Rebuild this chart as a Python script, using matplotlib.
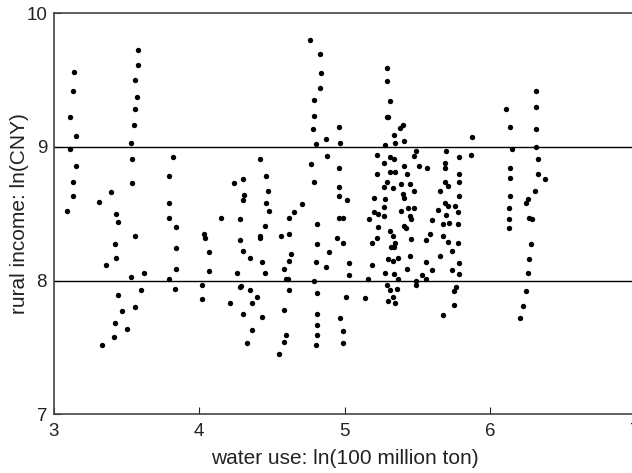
import matplotlib.pyplot as plt

plt.rcParams['font.family'] = ['Liberation Sans', 'DejaVu Sans']

# water use ln(100 million ton) and rural income ln(CNY)
water = [
    3.14, 3.13, 3.11, 3.15, 3.11, 3.15, 3.13, 3.13, 3.09,
    3.58, 3.58, 3.56, 3.57, 3.56, 3.55, 3.53, 3.54, 3.54, 3.56, 3.53, 3.56, 3.62, 3.60,
    3.39, 3.31, 3.43, 3.44, 3.42, 3.43, 3.36, 3.44, 3.47, 3.42, 3.50, 3.41, 3.33,
    3.82, 3.79, 3.79, 3.79, 3.84, 3.84, 3.84, 3.79, 3.83,
    4.03, 4.04, 4.07, 4.07, 4.02, 4.02, 4.15, 4.21,
    4.30, 4.24, 4.31, 4.30, 4.28, 4.28, 4.30, 4.35, 4.26, 4.28, 4.29, 4.35, 4.36, 4.30,
    4.36, 4.33, 4.40,
    4.42, 4.46, 4.47, 4.46, 4.48, 4.45, 4.42, 4.42, 4.43, 4.45, 4.43,
    4.56, 4.62, 4.62, 4.65, 4.71, 4.63, 4.62, 4.58, 4.60, 4.61, 4.62, 4.58, 4.60, 4.58, 4.55,
    4.76, 4.83, 4.84, 4.83, 4.79, 4.79, 4.78, 4.87, 4.80, 4.88, 4.77, 4.79, 4.81, 4.81,
    4.80, 4.89, 4.87, 4.79, 4.81, 4.81, 4.81, 4.81, 4.80,
    4.96, 4.97, 4.96, 4.96, 4.96, 5.02, 4.96, 4.99, 4.95, 4.99, 5.03, 5.03, 5.01, 4.97,
    4.99, 4.99,
    5.29, 5.29, 5.31, 5.29, 5.30, 5.38, 5.40, 5.34, 5.35, 5.41, 5.28, 5.49, 5.48, 5.22,
    5.31, 5.34, 5.27, 5.41, 5.51, 5.57, 5.22, 5.31, 5.35, 5.43, 5.29, 5.27, 5.33, 5.39,
    5.45, 5.48, 5.40, 5.41, 5.20, 5.28, 5.27, 5.20, 5.23, 5.27, 5.17, 5.39, 5.44, 5.48,
    5.45, 5.46,
    5.70, 5.69, 5.69, 5.79, 5.87, 5.88, 5.79, 5.79, 5.69, 5.71, 5.66, 5.79, 5.69, 5.71,
    5.76, 5.64, 5.70, 5.78, 5.60,
    5.23, 5.41, 5.42, 5.22, 5.19, 5.31, 5.33, 5.35, 5.32, 5.34, 5.46, 5.68, 5.72, 5.78,
    5.59, 5.68, 5.56, 5.71, 5.78, 5.74, 5.66, 5.19, 5.30, 5.33, 5.37, 5.45, 5.43, 5.28,
    5.34, 5.56, 5.60, 5.74, 5.79, 5.79, 5.16, 5.37, 5.49, 5.49, 5.53, 5.56, 5.29, 5.31,
    5.36, 5.14, 5.33, 5.30, 5.35, 5.75, 5.77, 5.75, 5.68,
    6.11, 6.14, 6.15, 6.14, 6.14, 6.14, 6.13, 6.13, 6.13,
    6.32, 6.32, 6.32, 6.32, 6.33, 6.33, 6.38, 6.31, 6.26, 6.25, 6.27, 6.29, 6.28, 6.27,
    6.26, 6.25, 6.23, 6.21,
]
income = [
    9.56, 9.42, 9.22, 9.08, 8.98, 8.86, 8.74, 8.63, 8.52,
    9.72, 9.61, 9.50, 9.37, 9.28, 9.16, 9.03, 8.91, 8.73, 8.33, 8.03, 7.80, 8.06, 7.93,
    8.66, 8.59, 8.50, 8.44, 8.27, 8.17, 8.12, 7.89, 7.77, 7.68, 7.64, 7.58, 7.52,
    8.92, 8.78, 8.58, 8.47, 8.40, 8.24, 8.09, 8.01, 7.94,
    8.35, 8.32, 8.21, 8.07, 7.97, 7.86, 8.47, 7.83,
    8.76, 8.73, 8.64, 8.60, 8.46, 8.30, 8.22, 8.17, 8.06, 7.95, 7.96, 7.93, 7.83, 7.75,
    7.63, 7.53, 7.88,
    8.91, 8.78, 8.67, 8.58, 8.52, 8.41, 8.33, 8.32, 8.14, 8.06, 7.73,
    8.33, 8.35, 8.47, 8.51, 8.57, 8.20, 8.15, 8.09, 8.01, 8.01, 7.93, 7.78, 7.59, 7.54, 7.45,
    9.80, 9.69, 9.55, 9.44, 9.35, 9.23, 9.13, 9.06, 9.02, 8.93, 8.87, 8.74, 8.42, 8.27,
    8.14, 8.21, 8.10, 8.00, 7.91, 7.75, 7.67, 7.59, 7.52,
    9.15, 9.03, 8.84, 8.70, 8.63, 8.60, 8.47, 8.47, 8.32, 8.28, 8.13, 8.04, 7.88, 7.72,
    7.62, 7.53,
    9.59, 9.49, 9.34, 9.22, 9.22, 9.14, 9.16, 9.09, 9.03, 9.04, 9.01, 8.97, 8.93, 8.94,
    8.92, 8.91, 8.88, 8.86, 8.86, 8.84, 8.80, 8.81, 8.81, 8.80, 8.74, 8.70, 8.69, 8.72,
    8.72, 8.67, 8.65, 8.62, 8.62, 8.61, 8.55, 8.51, 8.50, 8.48, 8.46, 8.52, 8.54, 8.54,
    8.48, 8.46,
    8.97, 8.88, 8.84, 8.92, 8.94, 9.07, 8.80, 8.74, 8.74, 8.71, 8.67, 8.63, 8.58, 8.56,
    8.56, 8.53, 8.49, 8.51, 8.45,
    8.40, 8.41, 8.39, 8.32, 8.28, 8.37, 8.33, 8.28, 8.25, 8.25, 8.31, 8.42, 8.43, 8.42,
    8.35, 8.33, 8.30, 8.29, 8.28, 8.22, 8.18, 8.12, 8.16, 8.15, 8.17, 8.18, 8.09, 8.06,
    8.05, 8.14, 8.08, 8.08, 8.13, 8.05, 8.01, 8.01, 8.00, 7.97, 8.04, 8.01, 7.97, 7.93,
    7.94, 7.87, 7.88, 7.85, 7.83, 7.92, 7.95, 7.82, 7.74,
    9.28, 9.15, 8.98, 8.84, 8.77, 8.63, 8.54, 8.46, 8.39,
    9.42, 9.30, 9.13, 9.00, 8.91, 8.80, 8.76, 8.67, 8.61, 8.58, 8.47, 8.46, 8.27, 8.16,
    8.06, 7.92, 7.81, 7.72,
]

fig = plt.figure(figsize=(6.32, 4.73), dpi=100)
ax = fig.add_axes([0.0854, 0.124, 0.9196, 0.8485])

ax.scatter(water, income, s=15, color='black', linewidths=0, zorder=3)
ax.axhline(8, color='black', linewidth=1)
ax.axhline(9, color='black', linewidth=1)

ax.set_xlim(3, 7)
ax.set_ylim(7, 10)
ax.set_xticks([3, 4, 5, 6, 7])
ax.set_yticks([7, 8, 9, 10])
ax.tick_params(direction='in', length=5, labelsize=13.5, colors='#222222')
ax.tick_params(axis='x', pad=6)
ax.tick_params(axis='y', pad=5)
ax.spines['right'].set_visible(False)
for s in ax.spines.values():
    s.set_color('#444444')
    s.set_linewidth(1.2)

ax.set_xlabel('water use: ln(100 million ton)', fontsize=15, color='#222222', labelpad=7)
ax.set_ylabel('rural income: ln(CNY)', fontsize=15, color='#222222', labelpad=-2)

fig.savefig('out.png', dpi=100)
